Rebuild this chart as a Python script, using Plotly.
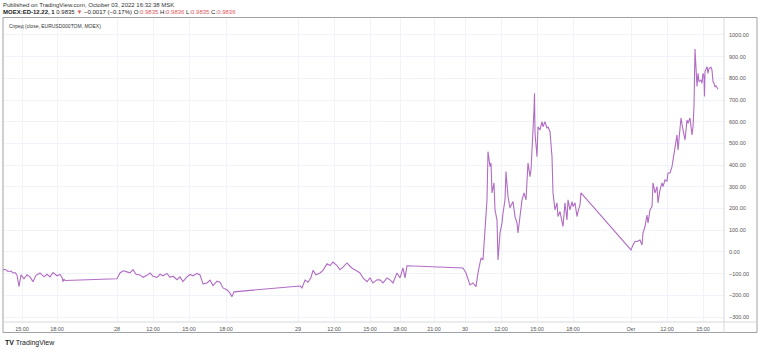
import plotly.graph_objects as go

# bar index (time-compressed axis, gaps skipped) and spread values
bar = [0, 2, 5, 8, 10, 12, 14, 16, 18, 21, 24, 27, 30, 33, 37, 41, 44, 47, 50, 54, 57, 59, 60, 61, 62,
       114,
       117, 120, 124, 127, 130, 133, 137, 140, 144, 147, 150, 154, 157, 160, 164, 167, 170, 174, 177, 180,
       184, 187, 190, 194, 197, 200, 204, 207, 210, 214, 217, 220, 224, 227, 229, 231,
       297,
       299, 302, 305, 308, 310, 313, 317, 320, 324, 327, 330, 334, 337, 340, 344, 347, 350, 354, 357, 360,
       364, 367, 370, 374, 377, 380, 384, 387, 390, 394, 397, 400, 402, 404,
       460,
       463, 467, 470, 473, 475, 478, 480, 482, 484, 485, 487, 488, 489, 491, 492, 494, 495, 497, 499, 500,
       502, 503, 505, 507, 510, 512, 514, 515, 517, 519, 521, 523, 525, 527, 528, 529, 531, 531.5, 532,
       534, 535, 537, 539, 540, 542, 544, 545, 547, 549, 550, 552, 554, 555, 557, 559, 560, 562, 564, 565,
       567, 569, 570, 572, 574, 575, 577, 578,
       628,
       630, 632, 634, 637, 639, 640, 642, 644, 645, 647, 649, 650, 652, 654, 655, 657, 659, 660, 662, 664,
       665, 667, 669, 670, 672, 674, 675, 677, 678, 680, 682, 684, 685, 687, 689, 690, 691, 692, 693, 694,
       695, 696, 698, 699, 700, 701, 701.5, 702, 704, 705, 706, 708, 709, 710, 711, 712, 713, 714, 715]
spread = [-83, -80, -90, -88, -97, -95, -106, -160, -106, -124, -105, -115, -137, -108, -97, -115, -103, -115, -95, -110, -104, -118, -137, -125, -132,
          -124,
          -97, -87, -92, -97, -82, -103, -106, -117, -108, -97, -112, -117, -103, -110, -99, -117, -112, -128, -115, -137,
          -115, -104, -110, -99, -106, -147, -143, -130, -155, -135, -140, -166, -175, -190, -206, -184,
          -157,
          -166, -130, -140, -118, -85, -105, -97, -85, -55, -63, -47, -63, -82, -70, -51, -66, -78, -88, -97,
          -120, -137, -120, -143, -128, -129, -143, -120, -129, -143, -97, -120, -74, -120, -64,
          -74,
          -97, -152, -143, -160, -97, -28, -37, 87, 240, 462, 393, 410, 272, 318, 194, 147, -37, 87, 133,
          179, 240, 370, 255, 203, 232, 163, 133, 87, 163, 240, 272, 240, 410, 347, 380, 455, 654, 731,
          548, 439, 577, 562, 600, 577, 600, 570, 577, 554, 439, 272, 194, 226, 163, 186, 147, 117, 226, 147,
          240, 194, 232, 209, 226, 163, 186, 217, 272,
          9,
          32, 48, 48, 55, 32, 87, 117, 170, 133, 194, 209, 318, 272, 301, 226, 286, 318, 301, 332,
          325, 364, 364, 393, 424, 500, 539, 470, 555, 617, 562, 516, 608, 593, 617, 539, 577, 670, 935, 846,
          762, 823, 785, 792, 777, 823, 808, 716, 831, 854, 823, 846, 851, 838, 785, 777, 762, 765, 760, 750]

tick_bars = [19, 54, 114, 150, 186, 223, 295, 331, 367, 397, 431, 462, 498, 534, 570, 628, 664, 700]
tick_text = ["15:00", "18:00", "28", "12:00", "15:00", "18:00", "29", "12:00", "15:00", "18:00", "21:00",
             "30", "12:00", "15:00", "18:00", "Окт", "12:00", "15:00"]
price_ticks = [-300, -200, -100, 0, 100, 200, 300, 400, 500, 600, 700, 800, 900, 1000]
price_text = [f"{v:.2f}" if v >= 0 else f"\u2212{abs(v):.2f}" for v in price_ticks]

FONT = "Liberation Sans"
fig = go.Figure()
fig.add_trace(go.Scatter(x=bar, y=spread, mode="lines",
                         line=dict(color="#B16CC4", width=1.1), hoverinfo="skip"))

W, H = 758, 350
L, R, T, B = 3, 34, 18, 28
fig.update_layout(
    width=W, height=H, margin=dict(l=L, r=R, t=T, b=B),
    paper_bgcolor="white", plot_bgcolor="white", showlegend=False,
    font=dict(family=FONT, size=5.5, color="#555555"),
    xaxis=dict(range=[0, 721], tickvals=tick_bars, ticktext=tick_text, showgrid=True,
               gridcolor="#F0F3FA", gridwidth=1, zeroline=False, showline=False,
               ticks="", ticklabelstandoff=2, tickfont=dict(size=5.5, color="#555555")),
    yaxis=dict(range=[-323, 1078], tickvals=price_ticks, ticktext=price_text, side="right",
               showgrid=True, gridcolor="#F0F3FA", gridwidth=1, zeroline=False, showline=False,
               ticks="", ticklabelstandoff=4, tickfont=dict(size=5.5, color="#555555")),
)

pw = W - L - R
ph = H - T - B
def px_x(x):
    return (x - L) / pw
def px_y(y):
    return (H - B - y) / ph

frame = "#9EA1A8"
# outer frame
fig.add_shape(type="rect", xref="paper", yref="paper", x0=px_x(3), x1=px_x(757), y0=px_y(332.5), y1=px_y(17.5),
              line=dict(color=frame, width=1))
# price axis separator
fig.add_shape(type="line", xref="paper", yref="paper", x0=1, x1=1, y0=px_y(332.5), y1=px_y(17.5),
              line=dict(color="#D6D8DD", width=1))
# time axis separator
fig.add_shape(type="line", xref="paper", yref="paper", x0=0, x1=px_x(757), y0=0, y1=0,
              line=dict(color="#D6D8DD", width=1))

red = "#E0575B"
fig.add_annotation(xref="paper", yref="paper", x=px_x(1), y=px_y(5), xanchor="left", yanchor="middle",
                   showarrow=False, text="Published on TradingView.com, October 03, 2022 16:32:38 MSK",
                   font=dict(family=FONT, size=6, color="#333333"))
fig.add_annotation(xref="paper", yref="paper", x=px_x(1), y=px_y(12.5), xanchor="left", yanchor="middle",
                   showarrow=False,
                   text=("<b>MOEX:ED-12.22, 1</b> 0.9835 "
                         f"<span style='color:{red}'>▼</span> \u22120.0017 (\u22120.17%) "
                         f"O:<span style='color:{red}'>0.9835</span> H:<span style='color:{red}'>0.9836</span> "
                         f"L:<span style='color:{red}'>0.9835</span> C:<span style='color:{red}'>0.9836</span>"),
                   font=dict(family=FONT, size=6, color="#222222"))
fig.add_annotation(xref="paper", yref="paper", x=px_x(7), y=px_y(25.5), xanchor="left", yanchor="middle",
                   showarrow=False, text="Спред (close, EURUSD000TOM, MOEX)",
                   font=dict(family=FONT, size=5, color="#333333"))
fig.add_annotation(xref="paper", yref="paper", x=px_x(3), y=px_y(342.5), xanchor="left", yanchor="middle",
                   showarrow=False, text="<b>TV</b> TradingView",
                   font=dict(family=FONT, size=7, color="#131722"))

fig.write_html("out.html")
